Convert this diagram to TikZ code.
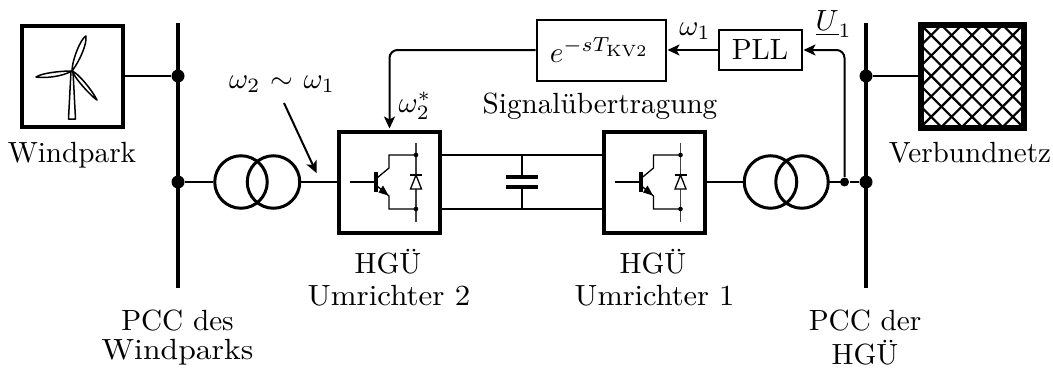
\documentclass[tikz,border=0pt]{standalone}
\usetikzlibrary{arrows.meta}
\newcommand{\U}{0.3425pt}
\tikzset{
  thick box/.style={draw,line width=4*\U,inner sep=0pt,minimum width=101*\U,minimum height=101*\U},
  thin box/.style={draw,line width=2*\U,inner sep=0pt},
  wire/.style={line width=2*\U},
  fine/.style={line width=1.3*\U},
  blade/.style={line width=1.5*\U,line join=round},
  bus/.style={line width=4*\U},
  busdot/.style={circle,fill,inner sep=0pt,minimum size=13*\U},
  smalldot/.style={circle,fill,inner sep=0pt,minimum size=9*\U},
  coil/.style={circle,draw,line width=3*\U,inner sep=0pt,minimum size=52.5*\U},
  txt/.style={anchor=base,inner sep=0pt},
  sig/.style={line width=2*\U,shorten >=1*\U,-{Stealth[length=12*\U,width=11*\U,inset=3*\U]}},
}
\newcommand{\igbtsym}[1]{%
  \begin{scope}[shift={(#1,0)}]
    \draw[fine] (350,182) -- (375,182);
    \draw[line width=4*\U] (376,172) -- (376,192);
    \draw[fine] (377,178) -- (389,168) -- (389,155) -- (416,155);
    \draw[fine] (377,186) -- (389,196) -- (389,209) -- (416,209);
    \fill (388.5,195.5) -- (378.5,192.5) -- (383,185.5) -- cycle;
    \draw[fine,black!75] (416,143) -- (416,222);
    \draw[fine,fill=white] (416,175) -- (410.5,189) -- (421.5,189) -- cycle;
    \draw[fine] (410,175) -- (422,175);
    \fill (416,155) circle[radius=2.3];
    \fill (416,209) circle[radius=2.3];
  \end{scope}}
\begin{document}
\begin{tikzpicture}[x=\U,y=-\U]
\useasboundingbox (0,0) rectangle (1053,369);
% nodes
\node[thick box] (wp) at (72,76) {};
\node[thick box] (grid) at (972,76) {};
\node[thick box] (k2) at (389.5,182) {};
\node[thick box] (k1) at (654,182) {};
\node[thin box,minimum width=129*\U,minimum height=61*\U] (delay) at (601,50) {};
\node[txt] (dl) at (599.5,62.5) {$e^{-sT_{\mbox{\fontsize{5.6}{6}\selectfont KV2}}}$};
\node[thin box,minimum width=83*\U,minimum height=40*\U] (pll) at (760,50) {PLL};
\node[coil] (t2a) at (241,182) {};
\node[coil] (t2b) at (273.5,182) {};
\node[coil] (t1a) at (770.5,182) {};
\node[coil] (t1b) at (802,182) {};
% buses
\coordinate (b1t) at (178,23); \coordinate (b1b) at (178,288);
\coordinate (b2t) at (866,23); \coordinate (b2b) at (866,288);
\draw[bus] (b1t) -- (b1b);
\draw[bus] (b2t) -- (b2b);
\node[busdot] (d1) at (178,76) {};
\node[busdot] (d2) at (178,182) {};
\node[busdot] (d3) at (866,76) {};
\node[busdot] (d4) at (866,182) {};
\node[smalldot] (j) at (844.5,182) {};
% power wires
\draw[wire] (wp.east) -- (d1);
\draw[wire] (grid.west) -- (d3);
\draw[wire] (d2) -- (t2a.west);
\draw[wire] (t2b.east) -- (k2.west);
\draw[wire] (k1.east) -- (t1a.west);
\draw[wire] ([xshift=-2*\U]t1b.east) -- (j.center);
\draw[wire] (j) -- (d4);
% DC link
\coordinate (dc2a) at (442,155); \coordinate (dc1a) at (602,155);
\coordinate (dc2b) at (442,209); \coordinate (dc1b) at (602,209);
\coordinate (ct) at (522,155); \coordinate (cb) at (522,209);
\coordinate (cu) at (522,177); \coordinate (cl) at (522,187);
\coordinate (cul) at (506,177); \coordinate (cur) at (538,177);
\coordinate (cll) at (506,187); \coordinate (clr) at (538,187);
\draw[wire] (dc2a) -- (dc1a);
\draw[wire] (dc2b) -- (dc1b);
\draw[wire] (ct) -- (cu);
\draw[wire] (cl) -- (cb);
\draw[line width=3.2*\U] (cul) -- (cur);
\draw[line width=3.2*\U] (cll) -- (clr);
% converters
\igbtsym{0}
\igbtsym{264.5}
% grid hatch
\begin{scope}
  \clip (921,25.5) rectangle (1023,126.5);
  \foreach \k in {-6,...,6} {
    \draw[line width=2.2*\U] (972+20.4*\k-60,76-60) -- (972+20.4*\k+60,76+60);
    \draw[line width=2.2*\U] (972+20.4*\k-60,76+60) -- (972+20.4*\k+60,76-60);
  }
\end{scope}
\draw[line width=4*\U] (grid.south west) rectangle (grid.north east);
% turbine
\draw[blade] (68.5,119) -- (71,71) -- (73,71) -- (75.5,119) -- cycle;
\draw[blade] (72,71) .. controls (72,60) and (81,38) .. (86,36) .. controls (87,45) and (79,62) .. (72,71);
\draw[blade] (72,71) .. controls (60,71) and (42,73) .. (36,77) .. controls (46,78.5) and (62,76.5) .. (72,71);
\draw[blade] (72,71) .. controls (78,73) and (92,90) .. (97,100) .. controls (92,97) and (76,80) .. (72,71);
% signals
\draw[sig,rounded corners=8*\U] (delay.west) -- (delay.west -| k2.north) -- (k2.north);
\draw[sig] (pll.west) -- (delay.east);
\draw[sig,rounded corners=8*\U] (j) -- (j |- pll.east) -- (pll.east);
\coordinate (as) at (284,103); \coordinate (ae) at (317,174);
\draw[sig] (as) -- (ae);
% labels
\node[txt] (l1) at (72,162) {Windpark};
\node[txt] (l2) at (970,162) {Verbundnetz};
\node[txt] (l3) at (282,88) {$\omega_2\mkern1.3mu\sim\mkern1.3mu\omega_1$};
\node[txt,anchor=base west] (l4) at (398,112) {$\omega_2^*$};
\node[txt] (l5) at (600,113) {Signalübertragung};
\node[txt] (l6) at (695,35) {$\omega_1$};
\node[txt,anchor=base west] (l7) at (815,30) {$\underline{U}_1$};
\node[txt] (l8) at (388,273) {HGÜ};
\node[txt] (l9) at (389,305) {\scalebox{1.06}[1]{Umrichter 2}};
\node[txt] (l10) at (653,273) {HGÜ};
\node[txt] (l11) at (654.5,305) {\scalebox{1.04}[1]{Umrichter 1}};
\node[txt] (l12) at (177.5,330) {PCC des};
\node[txt] (l13) at (177.5,359) {\scalebox{1.085}[1]{Windparks}};
\node[txt] (l14) at (865,330) {PCC der};
\node[txt] (l15) at (865,364) {HGÜ};
\end{tikzpicture}
\end{document}
